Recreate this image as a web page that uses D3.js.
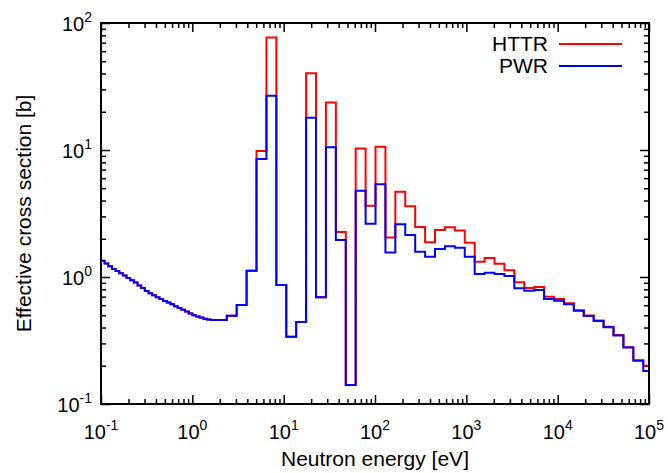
<!DOCTYPE html>
<html>
<head>
<meta charset="utf-8">
<script src="https://cdn.jsdelivr.net/npm/d3@7"></script>
<style>
  body { margin: 0; background: #fff; }
  text { font-family: "Liberation Sans", Arial, sans-serif; fill: #000; }
</style>
</head>
<body>
<div id="chart"></div>
<script>
// group boundaries [eV], ascending
let energyEdges = [
  0.1, 0.1096, 0.1202, 0.1318, 0.1445, 0.1585, 0.1738, 0.1905, 0.2089, 0.2291,
  0.2512, 0.2754, 0.3020, 0.3311, 0.3631, 0.3981, 0.4365, 0.4786, 0.5248, 0.5754,
  0.6310, 0.6918, 0.7586, 0.8318, 0.9120, 1.0, 1.096, 1.202, 1.318, 1.445, 1.585,
  2.382, 3.059, 3.928, 5.043, 6.476, 8.315, 10.68, 13.71, 17.60, 22.60, 29.02,
  37.27, 47.85, 61.44, 78.89, 101.3, 130.1, 167.0, 214.4, 275.4, 353.6, 454.0,
  582.9, 748.5, 961.1, 1234.1, 1584.6, 2034.7, 2612.6, 3354.6, 4307.3, 5530.7,
  7101.6, 9118.8, 11709, 15034, 19305, 24788, 31828, 40868, 52475, 67379, 86517,
  111090
];

// effective cross section per group [b]
let httrValues = [
  1.344, 1.277, 1.216, 1.158, 1.113, 1.069, 1.026, 0.984, 0.942, 0.906,
  0.857, 0.818, 0.776, 0.745, 0.717, 0.694, 0.671, 0.648, 0.629, 0.609,
  0.589, 0.570, 0.551, 0.536, 0.515, 0.499, 0.489, 0.479, 0.469, 0.462, 0.459,
  0.496, 0.602, 1.121, 9.82, 76.9, 0.865, 0.339, 0.442, 40.2, 0.692, 23.7,
  2.26, 0.141, 10.28, 3.64, 10.6, 2.05, 4.70, 3.60, 2.48, 1.88, 2.34,
  2.46, 2.32, 1.86, 1.32, 1.41, 1.27, 1.13, 0.908, 0.819, 0.834,
  0.700, 0.671, 0.621, 0.548, 0.497, 0.455, 0.405, 0.350, 0.280, 0.221, 0.200
];

let pwrValues = [
  1.344, 1.277, 1.216, 1.158, 1.113, 1.069, 1.026, 0.984, 0.942, 0.906,
  0.857, 0.818, 0.776, 0.745, 0.717, 0.694, 0.671, 0.648, 0.629, 0.609,
  0.589, 0.570, 0.551, 0.536, 0.515, 0.499, 0.489, 0.479, 0.469, 0.462, 0.459,
  0.496, 0.602, 1.121, 8.49, 26.8, 0.865, 0.339, 0.442, 17.96, 0.692, 10.5,
  1.956, 0.141, 4.78, 2.63, 5.38, 1.56, 2.60, 2.14, 1.58, 1.445, 1.66,
  1.75, 1.70, 1.445, 1.056, 1.081, 1.056, 1.02, 0.815, 0.780, 0.790,
  0.671, 0.650, 0.610, 0.543, 0.493, 0.451, 0.402, 0.347, 0.278, 0.219, 0.182
];

let xTickExp = [-1, 0, 1, 2, 3, 4, 5];
let yTickExp = [-1, 0, 1, 2];
let seriesNames = ["HTTR", "PWR"];
let seriesColors = ["#ff0000", "#0000ff"];

let svgWidth = 668;
let svgHeight = 473;

let chartMargin = {
  top: 23,
  right: 19,
  bottom: 69,
  left: 101
};

let chartWidth = svgWidth - chartMargin.left - chartMargin.right;
let chartHeight = svgHeight - chartMargin.top - chartMargin.bottom;

let svg = d3.select("#chart")
  .append("svg")
  .attr("width", svgWidth)
  .attr("height", svgHeight);

let chartGroup = svg.append("g")
  .attr("transform", `translate(${chartMargin.left}, ${chartMargin.top})`);

let xScale = d3.scaleLog().domain([0.1, 1e5]).range([0, chartWidth]);
let yScale = d3.scaleLog().domain([0.1, 100]).range([chartHeight, 0]);

// minor ticks 2..9 in each decade
function minorTicks(expList) {
  let out = [];
  for (let i = 0; i < expList.length - 1; i++) {
    for (let m = 2; m <= 9; m++) out.push(m * Math.pow(10, expList[i]));
  }
  return out;
}

let xMajor = xTickExp.map(e => Math.pow(10, e));
let yMajor = yTickExp.map(e => Math.pow(10, e));
let xMinor = minorTicks(xTickExp);
let yMinor = minorTicks(yTickExp);

function styleTicks(g) {
  g.select(".domain").remove();
  g.selectAll("line").attr("stroke", "#000").attr("stroke-width", 1.5);
}

// inward ticks on all four sides
chartGroup.append("g").attr("transform", `translate(0, ${chartHeight})`)
  .call(d3.axisBottom(xScale).tickValues(xMinor).tickSize(-5).tickFormat("")).call(styleTicks);
chartGroup.append("g").attr("transform", `translate(0, ${chartHeight})`)
  .call(d3.axisBottom(xScale).tickValues(xMajor).tickSize(-9).tickFormat("")).call(styleTicks);
chartGroup.append("g")
  .call(d3.axisTop(xScale).tickValues(xMinor).tickSize(-5).tickFormat("")).call(styleTicks);
chartGroup.append("g")
  .call(d3.axisTop(xScale).tickValues(xMajor).tickSize(-9).tickFormat("")).call(styleTicks);
chartGroup.append("g")
  .call(d3.axisLeft(yScale).tickValues(yMinor).tickSize(-5).tickFormat("")).call(styleTicks);
chartGroup.append("g")
  .call(d3.axisLeft(yScale).tickValues(yMajor).tickSize(-9).tickFormat("")).call(styleTicks);
chartGroup.append("g").attr("transform", `translate(${chartWidth}, 0)`)
  .call(d3.axisRight(yScale).tickValues(yMinor).tickSize(-5).tickFormat("")).call(styleTicks);
chartGroup.append("g").attr("transform", `translate(${chartWidth}, 0)`)
  .call(d3.axisRight(yScale).tickValues(yMajor).tickSize(-9).tickFormat("")).call(styleTicks);

// tick labels 10^n
let xLabels = chartGroup.selectAll(".xlab")
  .data(xTickExp)
  .enter()
  .append("text")
  .attr("class", "xlab")
  .attr("x", d => xScale(Math.pow(10, d)))
  .attr("y", chartHeight + 35)
  .attr("text-anchor", "middle")
  .style("font-size", "20px");
xLabels.append("tspan").text("10");
xLabels.append("tspan").attr("dy", -9).style("font-size", "14px").text(d => d);

let yLabels = chartGroup.selectAll(".ylab")
  .data(yTickExp)
  .enter()
  .append("text")
  .attr("class", "ylab")
  .attr("x", -9)
  .attr("y", d => yScale(Math.pow(10, d)) + 8)
  .attr("text-anchor", "end")
  .style("font-size", "20px");
yLabels.append("tspan").text("10");
yLabels.append("tspan").attr("dy", -9).style("font-size", "14px").text(d => d);

// histogram steps
svg.append("defs").append("clipPath").attr("id", "plotClip")
  .append("rect").attr("width", chartWidth).attr("height", chartHeight);

let stepLine = d3.line()
  .x(d => xScale(d[0]))
  .y(d => yScale(d[1]))
  .curve(d3.curveStepAfter);

function stepPoints(vals) {
  let pts = vals.map((v, i) => [energyEdges[i], v]);
  pts.push([energyEdges[energyEdges.length - 1], vals[vals.length - 1]]);
  return pts;
}

let plotArea = chartGroup.append("g").attr("clip-path", "url(#plotClip)");

[httrValues, pwrValues].forEach(function(vals, i) {
  plotArea.append("path")
    .attr("d", stepLine(stepPoints(vals)))
    .attr("fill", "none")
    .attr("stroke", seriesColors[i])
    .attr("stroke-width", 2);
});

// frame
chartGroup.append("rect")
  .attr("width", chartWidth)
  .attr("height", chartHeight)
  .attr("fill", "none")
  .attr("stroke", "#000")
  .attr("stroke-width", 2);

// legend
let legend = chartGroup.append("g").attr("transform", "translate(0, 0)");
seriesNames.forEach(function(name, i) {
  let ly = 21 + i * 22;
  legend.append("text")
    .attr("x", 447)
    .attr("y", ly + 7)
    .attr("text-anchor", "end")
    .style("font-size", "21px")
    .text(name);
  legend.append("line")
    .attr("x1", 458).attr("x2", 521)
    .attr("y1", ly).attr("y2", ly)
    .attr("stroke", seriesColors[i])
    .attr("stroke-width", 2);
});

// axis titles
svg.append("text")
  .attr("x", chartMargin.left + chartWidth / 2)
  .attr("y", 466)
  .attr("text-anchor", "middle")
  .style("font-size", "21px")
  .text("Neutron energy [eV]");

svg.append("text")
  .attr("transform", `translate(31, ${chartMargin.top + chartHeight / 2}) rotate(-90)`)
  .attr("text-anchor", "middle")
  .style("font-size", "21px")
  .text("Effective cross section [b]");
</script>
</body>
</html>
